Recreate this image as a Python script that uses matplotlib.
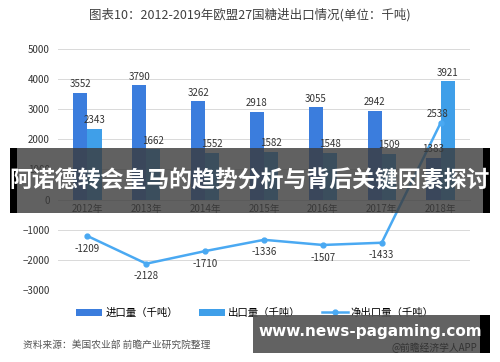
import matplotlib
matplotlib.use("Agg")
import matplotlib.pyplot as plt
from matplotlib.patches import Rectangle
import numpy as np

plt.rcParams['font.family'] = ['Noto Sans CJK SC', 'DejaVu Sans']

# data
years = ["2012年", "2013年", "2014年", "2015年", "2016年", "2017年", "2018年"]
imports = [3552, 3790, 3262, 2918, 3055, 2942, 1383]
exports = [2343, 1662, 1552, 1582, 1548, 1509, 3921]
net_exports = [-1209, -2128, -1710, -1336, -1507, -1433, 2538]

c_imp = "#3b7ddd"
c_exp = "#3f9fe9"
c_net = "#4aa9f2"

fig = plt.figure(figsize=(5, 3.62), dpi=100)
ax = fig.add_axes([0.116, 0.199, 0.824, 0.666])

x = np.arange(len(years))
w = 0.24
b1 = ax.bar(x - w / 2, imports, w, color=c_imp, label="进口量（千吨）", zorder=2)
b2 = ax.bar(x + w / 2, exports, w, color=c_exp, label="出口量（千吨）", zorder=2)
l1, = ax.plot(x, net_exports, color=c_net, lw=1.8, marker="o", ms=3.5, label="净出口量（千吨）", zorder=3)

for i in range(len(years)):
    ax.text(x[i] - w / 2, imports[i] + 120, str(imports[i]), ha="center", va="bottom", fontsize=7, color="#333333")
    ax.text(x[i] + w / 2, exports[i] + 120, str(exports[i]), ha="center", va="bottom", fontsize=7, color="#333333")
    if net_exports[i] < 0:
        ax.text(x[i], net_exports[i] - 250, str(net_exports[i]), ha="center", va="top", fontsize=7, color="#333333")
    else:
        ax.text(x[i] - 0.05, net_exports[i] + 120, str(net_exports[i]), ha="center", va="bottom", fontsize=7, color="#333333")

ax.set_xlim(-0.5, len(years) - 0.5)
ax.set_ylim(-3000, 5000)
ax.set_yticks(range(-3000, 5001, 1000))
ax.set_xticks(x)
ax.set_xticklabels(years)
ax.tick_params(axis="both", length=0, labelsize=7, colors="#333333")
ax.tick_params(axis="y", pad=6)
ax.grid(axis="y", color="#d9d9d9", lw=0.7, zorder=0)
for s in ["top", "right", "left"]:
    ax.spines[s].set_visible(False)
ax.spines["bottom"].set_position(("data", 0))
ax.spines["bottom"].set_color("#d9d9d9")
ax.spines["bottom"].set_linewidth(0.7)

fig.text(0.5, 0.958, "图表10：2012-2019年欧盟27国糖进出口情况(单位：千吨)", ha="center", va="center",
         fontsize=9, color="#404040")
fig.legend(handles=[b1, b2, l1], loc="center", bbox_to_anchor=(0.51, 0.135), ncol=3, frameon=False,
           fontsize=7.5, handlelength=2.5, columnspacing=2.0, handletextpad=0.3)
fig.text(0.046, 0.047, "资料来源：美国农业部 前瞻产业研究院整理", fontsize=7, color="#555555",
         style="italic", va="center")
fig.text(0.955, 0.04, "@前瞻经济学人APP", fontsize=7, color="#333333", ha="right", va="center", zorder=12)

# overlay banner across the middle
fig.patches.append(Rectangle((0.02, 0.412), 0.96, 0.18, transform=fig.transFigure,
                             facecolor="#3a3a3a", alpha=0.8, zorder=10))
fig.patches.append(Rectangle((0.02, 0.412), 0.014, 0.18, transform=fig.transFigure,
                             facecolor="black", zorder=10))
fig.patches.append(Rectangle((0.966, 0.412), 0.014, 0.18, transform=fig.transFigure,
                             facecolor="black", zorder=10))
fig.text(0.5, 0.5, "阿诺德转会皇马的趋势分析与背后关键因素探讨", ha="center", va="center",
         fontsize=16.5, color="white", fontweight="bold", zorder=11)

# watermark banner bottom right
fig.patches.append(Rectangle((0.506, 0.025), 0.454, 0.105, transform=fig.transFigure,
                             facecolor="#555555", alpha=0.92, zorder=10))
fig.patches.append(Rectangle((0.96, 0.025), 0.02, 0.105, transform=fig.transFigure,
                             facecolor="black", zorder=10))
fig.text(0.741, 0.085, "www.news-pagaming.com", ha="center", va="center",
         fontsize=11, color="white", fontweight="bold", family="DejaVu Sans", zorder=11)

fig.savefig("out.png", dpi=100)
